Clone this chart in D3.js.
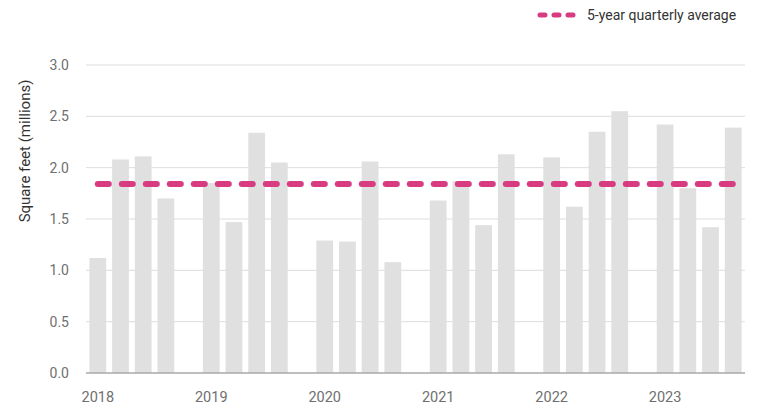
<!DOCTYPE html>
<html lang="en">
<head>
<meta charset="UTF-8">
<title>Square feet by quarter</title>
<script src="https://d3js.org/d3.v7.min.js"></script>
<style>
    body { margin: 0; background: #fff; font-family: Roboto, 'Noto Sans', sans-serif; }
    svg { display: block; }
</style>
</head>
<body>
<svg id="chart" width="759" height="406"></svg>
<script>
// data
const years = ["2018", "2019", "2020", "2021", "2022", "2023"];
const quarters = ["Q1", "Q2", "Q3", "Q4"];
const values = [
    [1.12, 2.08, 2.11, 1.70],
    [1.85, 1.47, 2.34, 2.05],
    [1.29, 1.28, 2.06, 1.08],
    [1.68, 1.87, 1.44, 2.13],
    [2.10, 1.62, 2.35, 2.55],
    [2.42, 1.80, 1.42, 2.39]
];
const average = 1.84;
const yTicks = [0, 0.5, 1, 1.5, 2, 2.5, 3];
const legendLabel = "5-year quarterly average";
const yTitle = "Square feet (millions)";

const pink = "#d83c80";
const svg = d3.select("#chart");
const margin = { top: 65, right: 14, bottom: 33, left: 86 };
const W = 759, H = 406;

// one slot per quarter, plus an empty slot between years
const slots = [];
const bars = [];
years.forEach((yr, i) => {
    quarters.forEach((q, j) => {
        const key = yr + "-" + q;
        slots.push(key);
        bars.push({ key: key, year: yr, q: q, value: values[i][j] });
    });
    if (i < years.length - 1) slots.push("gap-" + yr);
});

const x = d3.scaleBand()
    .domain(slots)
    .range([margin.left, W - margin.right])
    .paddingInner(0.26)
    .paddingOuter(0.15);

const y = d3.scaleLinear()
    .domain([0, 3])
    .range([H - margin.bottom, margin.top]);

// grid
svg.append("g")
    .selectAll("line")
    .data(yTicks.filter(d => d > 0))
    .join("line")
    .attr("x1", margin.left)
    .attr("x2", W - margin.right)
    .attr("y1", d => y(d))
    .attr("y2", d => y(d))
    .attr("stroke", "#dddddd")
    .attr("stroke-width", 1);

// y tick labels
svg.append("g")
    .selectAll("text")
    .data(yTicks)
    .join("text")
    .attr("x", margin.left - 17)
    .attr("y", d => y(d))
    .attr("dy", "0.35em")
    .attr("text-anchor", "end")
    .attr("font-size", 14)
    .attr("fill", "#6f6f6f")
    .text(d => d3.format(".1f")(d));

// bars
svg.append("g")
    .selectAll("rect")
    .data(bars)
    .join("rect")
    .attr("x", d => x(d.key))
    .attr("width", x.bandwidth())
    .attr("y", d => y(d.value))
    .attr("height", d => y(0) - y(d.value))
    .attr("fill", "#e0e0e0");

// baseline
svg.append("line")
    .attr("x1", margin.left)
    .attr("x2", W - margin.right)
    .attr("y1", y(0))
    .attr("y2", y(0))
    .attr("stroke", "#a8a8a8")
    .attr("stroke-width", 1.5);

// year labels under the first quarter
svg.append("g")
    .selectAll("text")
    .data(years)
    .join("text")
    .attr("x", d => x(d + "-Q1") + x.bandwidth() / 2)
    .attr("y", H - 4)
    .attr("text-anchor", "middle")
    .attr("font-size", 14.5)
    .attr("fill", "#6f6f6f")
    .text(d => d);

// average line
const first = bars[0].key, last = bars[bars.length - 1].key;
svg.append("line")
    .attr("x1", x(first) + x.bandwidth() / 2)
    .attr("x2", x(last) + x.bandwidth() / 2)
    .attr("y1", y(average))
    .attr("y2", y(average))
    .attr("stroke", pink)
    .attr("stroke-width", 6)
    .attr("stroke-linecap", "round")
    .attr("stroke-dasharray", "11 13");

// y title
svg.append("text")
    .attr("transform", `translate(30,${(y(3) + y(0)) / 2 - 68}) rotate(-90)`)
    .attr("text-anchor", "middle")
    .attr("font-size", 15)
    .attr("fill", "#333")
    .text(yTitle);

// legend
const lg = svg.append("g").attr("transform", "translate(540,15)");
lg.append("line")
    .attr("x1", 0).attr("x2", 36)
    .attr("y1", 0).attr("y2", 0)
    .attr("stroke", pink)
    .attr("stroke-width", 5)
    .attr("stroke-linecap", "round")
    .attr("stroke-dasharray", "5 9");
lg.append("text")
    .attr("x", 47)
    .attr("y", 0)
    .attr("dy", "0.35em")
    .attr("font-size", 14)
    .attr("fill", "#333")
    .text(legendLabel);
</script>
</body>
</html>
